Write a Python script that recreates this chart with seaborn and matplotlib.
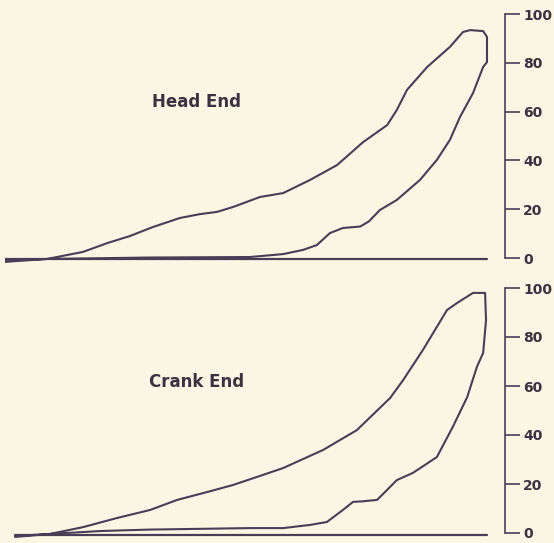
import matplotlib
matplotlib.use("Agg")
import matplotlib.pyplot as plt
import seaborn as sns
import pandas as pd

# indicator diagrams, x = % of stroke, y = pressure (lb)
head_x = [0, 8.7, 16.2, 21.2, 25.9, 30.7, 36.3, 40.5, 44.0, 47.3, 52.9, 57.7, 63.3, 68.9,
          74.3, 79.3, 81.3, 83.4, 87.6, 92.3, 95.0, 96.5, 99.2, 100, 100, 99.2, 97.1, 94.4,
          92.3, 89.6, 86.1, 81.3, 77.8, 75.5, 73.7, 70.1, 67.4, 64.7, 61.8, 57.7, 50.8, 30.1,
          8.7, 0]
head_p = [-1.6, -0.4, 2.5, 6.1, 9.0, 12.7, 16.4, 18.0, 18.9, 20.9, 25.0, 26.6, 32.0, 38.1,
          47.5, 54.5, 60.7, 68.9, 78.3, 86.5, 92.6, 93.4, 93.0, 90.6, 80.3, 78.3, 67.6, 57.8,
          48.4, 40.2, 32.0, 23.8, 19.7, 15.0, 12.9, 12.3, 10.2, 5.3, 3.3, 1.6, 0.4, 0.2,
          -0.4, -1.0]

crank_x = [2.1, 9.3, 16.2, 23.2, 30.1, 35.7, 41.9, 47.3, 52.9, 57.7, 66.0, 73.0, 79.9, 82.6,
           86.7, 91.7, 93.8, 97.1, 99.6, 99.8, 99.2, 97.9, 95.9, 92.9, 89.6, 84.6, 81.3, 77.2,
           74.0, 72.2, 70.1, 66.8, 63.3, 57.7, 50.8, 30.1, 19.7, 9.3, 2.1]
crank_p = [-1.2, -0.4, 2.4, 6.1, 9.4, 13.5, 16.7, 19.6, 23.3, 26.5, 33.9, 42.0, 55.1, 62.4,
           74.7, 91.0, 93.9, 98.0, 98.0, 86.9, 73.5, 67.8, 55.5, 43.3, 31.0, 24.5, 21.6, 13.5,
           12.9, 12.7, 9.4, 4.5, 3.3, 2.0, 2.0, 1.4, 0.8, -0.4, -1.6]

head_atm_x = [0, 100]
head_atm_p = [-0.5, -0.5]
crank_atm_x = [2.1, 100]
crank_atm_p = [-0.8, -0.8]

scale_ticks = [0, 20, 40, 60, 80, 100]
scale_labels = ["0", "20", "40", "60", "80", "100"]

bg = "#fbf6e3"
ink = "#4a3d58"
text_ink = "#3a3240"

sns.set_style("white")
plt.rcParams["font.family"] = ["DejaVu Sans"]

fig = plt.figure(figsize=(5.54, 5.43), dpi=100, facecolor=bg)
W, H = 554, 543

panels = [
    # (title, x, p, atm x, atm p, zero px, 100 px, title y px)
    ("Head End", head_x, head_p, head_atm_x, head_atm_p, 258, 14, 102),
    ("Crank End", crank_x, crank_p, crank_atm_x, crank_atm_p, 533, 288, 382),
]

for title, xs, ps, ax_x, ax_p, y0, y100, ty in panels:
    ppu = (y0 - y100) / 100.0
    top_px, bot_px = y100 - 10, y0 + 10
    ax = fig.add_axes([5 / W, 1 - bot_px / H, 500 / W, (bot_px - top_px) / H])
    ax.set_facecolor("none")
    df = pd.DataFrame({"x": xs, "p": ps})
    sns.lineplot(data=df, x="x", y="p", sort=False, estimator=None,
                 color=ink, linewidth=1.5, ax=ax, solid_joinstyle="round")
    sns.lineplot(x=ax_x, y=ax_p, sort=False, estimator=None,
                 color=ink, linewidth=1.6, ax=ax)
    ax.set_xlim(0, 500 / 4.82)
    ax.set_ylim((y0 - bot_px) / ppu, (y0 - top_px) / ppu)
    for s in ["top", "left", "bottom"]:
        ax.spines[s].set_visible(False)
    ax.spines["right"].set_bounds(0, 100)
    ax.spines["right"].set_color(ink)
    ax.spines["right"].set_linewidth(1.2)
    ax.yaxis.tick_right()
    ax.set_yticks(scale_ticks)
    ax.set_yticklabels(scale_labels)
    ax.tick_params(axis="y", direction="out", length=11, width=1.2, color=ink,
                   pad=2, labelsize=10, labelcolor=text_ink)
    for lab in ax.get_yticklabels():
        lab.set_fontweight("bold")
    ax.set_xticks([])
    ax.set_xlabel("")
    ax.set_ylabel("")
    fig.text(197 / W, 1 - ty / H, title, ha="center", va="center",
             fontsize=12, fontweight="bold", color=text_ink)

fig.savefig("out.png", dpi=100, facecolor=bg)
